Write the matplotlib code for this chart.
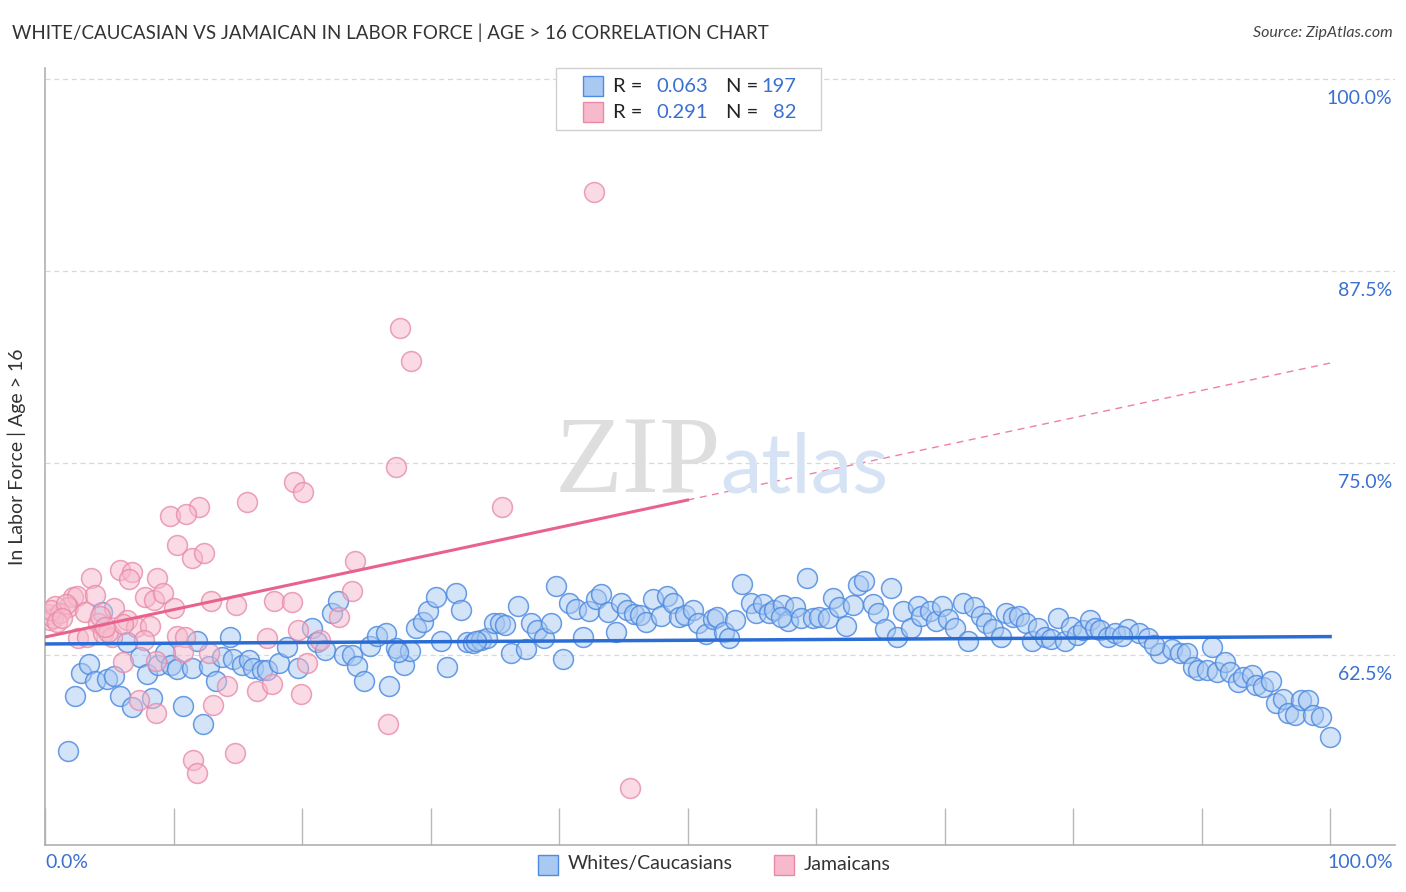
import matplotlib
matplotlib.use("Agg")
import matplotlib.pyplot as plt
from matplotlib.patches import Rectangle
from matplotlib.colors import to_rgba

# ---------------- data ----------------
white_x = [1.8, 2.3, 2.8, 3.4, 3.9, 4.4, 4.8, 5.4, 5.8, 6.4, 6.8, 7.4, 7.9, 8.3, 8.8, 9.3, 9.8, 10.3, 10.7, 11.4,
           11.8, 12.3, 12.8, 13.3, 13.8, 14.4, 14.6, 15.3, 15.9, 16.2, 16.9, 17.3, 18.2, 18.8, 19.7, 20.8, 21.2, 21.8, 22.3, 22.8,
           23.3, 23.9, 24.3, 24.8, 25.3, 25.8, 26.5, 26.8, 27.3, 27.9, 28.4, 28.9, 29.4, 29.8, 30.4, 30.8, 31.3, 32.0, 32.4, 32.8,
           33.3, 33.9, 34.4, 34.9, 35.4, 35.8, 36.3, 36.8, 37.4, 37.8, 38.3, 38.8, 39.4, 39.8, 40.3, 40.8, 41.3, 41.9, 42.3, 42.9,
           43.3, 43.8, 44.4, 44.8, 45.3, 45.8, 46.3, 46.8, 47.3, 47.9, 48.4, 48.9, 49.3, 49.8, 50.4, 50.8, 51.4, 52.0, 52.3, 52.8,
           53.2, 53.7, 54.2, 54.9, 55.3, 55.9, 56.3, 56.7, 57.4, 57.8, 58.4, 58.8, 59.3, 59.8, 60.2, 60.9, 61.3, 61.8, 62.3, 62.9,
           63.3, 63.7, 64.4, 64.8, 65.4, 65.8, 66.3, 66.8, 67.4, 67.9, 68.2, 68.9, 69.3, 69.8, 70.3, 70.8, 71.4, 71.8, 72.3, 72.8,
           73.2, 73.8, 74.4, 74.8, 75.3, 75.8, 76.3, 76.8, 77.3, 77.8, 78.3, 78.8, 79.4, 79.8, 80.3, 80.8, 81.3, 81.7, 82.1, 82.7,
           83.3, 84.3, 85.1, 85.8, 86.8, 87.7, 88.3, 88.9, 89.3, 89.7, 90.4, 90.8, 91.2, 91.8, 92.2, 92.8, 93.2, 93.9, 94.2, 94.8,
           95.4, 95.8, 96.3, 96.7, 97.3, 97.7, 98.3, 98.7, 99.3, 100.0, 83.8, 86.3, 27.5, 33.5, 57.3]
white_y = [56.25, 59.83, 61.33, 61.91, 60.81, 65.30, 60.94, 61.13, 59.83, 63.35, 59.11, 62.37, 61.26, 59.70, 61.85, 62.63, 61.85, 61.59, 59.18, 61.65,
           63.41, 58.01, 61.78, 60.81, 62.37, 63.67, 62.24, 61.85, 62.17, 61.65, 61.52, 61.52, 61.98, 63.02, 61.65, 64.26, 63.35, 62.83, 65.23, 66.02,
           62.50, 62.50, 61.78, 60.81, 63.09, 63.74, 63.93, 60.48, 62.96, 61.85, 62.76, 64.26, 64.65, 65.36, 66.28, 63.41, 61.72, 66.54, 65.43, 63.35,
           63.28, 63.48, 63.61, 64.58, 64.58, 64.45, 62.63, 65.69, 62.89, 64.58, 64.13, 63.61, 64.58, 66.99, 62.24, 65.89, 65.49, 63.67, 65.36, 66.15,
           66.47, 65.30, 64.00, 65.89, 65.43, 65.17, 65.10, 64.65, 66.15, 65.04, 66.34, 65.89, 64.97, 65.10, 65.43, 64.58, 63.87, 64.84, 64.97, 64.00,
           63.61, 64.78, 67.12, 65.89, 65.23, 65.82, 65.23, 65.43, 65.76, 64.71, 65.62, 64.91, 67.51, 64.91, 64.97, 64.91, 66.21, 65.62, 64.39, 65.76,
           67.06, 67.32, 65.82, 65.23, 64.19, 66.86, 63.67, 65.36, 64.26, 65.69, 65.04, 65.36, 64.71, 65.69, 64.84, 64.26, 65.89, 63.41, 65.62, 65.04,
           64.58, 64.19, 63.67, 65.23, 64.97, 65.04, 64.58, 63.41, 64.26, 63.67, 63.54, 64.91, 63.41, 64.32, 63.80, 64.13, 64.78, 64.26, 64.13, 63.67,
           63.93, 64.19, 63.93, 63.61, 62.63, 62.89, 62.63, 62.63, 61.72, 61.52, 61.52, 63.02, 61.39, 62.04, 61.39, 60.74, 61.07, 61.20, 60.55, 60.42,
           60.81, 59.38, 59.64, 58.73, 58.60, 59.57, 59.57, 58.60, 58.47, 57.17, 63.74, 63.15, 62.70, 63.40, 65.00]

jam_x = [42.7, 27.6, 28.5, 27.3, 35.6, 19.4, 20.1, 15.7, 12.0, 9.7, 11.0, 10.3, 11.4, 12.4, 24.1, 23.9, 5.8, 6.8, 6.5, 3.6,
         8.7, 2.2, 2.5, 3.9, 7.8, 8.5, 9.2, 10.0, 5.4, 12.9, 14.9, 17.8, 19.2, 1.8, 3.1, 4.1, 6.4, 7.1, 8.2, 2.6,
         3.3, 4.5, 5.2, 7.7, 10.3, 10.9, 10.7, 12.8, 17.3, 19.7, 22.9, 6.1, 7.3, 8.6, 13.1, 14.2, 16.5, 17.7, 19.9, 20.4,
         21.4, 11.5, 11.8, 14.8, 45.5, 26.7, 8.6, 0.2, 0.4, 0.6, 0.8, 1.2, 0.5, 1.6, 0.9, 1.3, 4.9, 6.1, 4.3, 4.7]
jam_y = [92.64, 83.79, 81.64, 74.74, 72.13, 73.76, 73.11, 72.46, 72.13, 71.55, 71.68, 69.66, 68.81, 69.14, 68.62, 66.67, 68.03, 67.90, 67.45, 67.51,
         67.51, 66.28, 66.34, 66.41, 66.28, 66.08, 66.54, 65.56, 65.56, 66.02, 65.76, 66.02, 65.95, 65.62, 65.30, 64.58, 64.78, 64.32, 64.39, 63.61,
         63.67, 63.93, 63.67, 63.48, 63.74, 63.67, 62.70, 62.63, 63.61, 64.13, 64.97, 62.04, 59.57, 58.73, 59.25, 60.48, 60.16, 60.61, 59.96, 61.98,
         63.48, 55.64, 54.79, 56.10, 53.84, 58.01, 62.11, 65.17, 64.78, 64.91, 65.69, 65.23, 65.43, 65.82, 64.65, 64.91, 64.00, 64.52, 65.04, 64.30]

white_fit_x = [0, 100]
white_fit_y = [63.22, 63.70]
jam_fit_x_solid = [0, 50]
jam_fit_y_solid = [63.67, 72.59]
jam_fit_x_dash = [50, 100]
jam_fit_y_dash = [72.59, 81.51]

y_ticks = [62.5, 75.0, 87.5, 100.0]
y_tick_labels = ["62.5%", "75.0%", "87.5%", "100.0%"]
x_ticks = [0, 10, 20, 30, 40, 50, 60, 70, 80, 90, 100]

BLUE_FACE = "#a9c9f2"
BLUE_EDGE = "#4f8be0"
PINK_FACE = "#f7b9cc"
PINK_EDGE = "#e88aa8"
BLUE_LINE = "#2a6dd4"
PINK_LINE = "#e8628c"
TICK_BLUE = "#3a70d0"

plt.rcParams['font.family'] = ['Lato', 'DejaVu Sans']

fig = plt.figure(figsize=(14.06, 8.92), dpi=100)
ax = fig.add_axes([45 / 1406, 1 - 845 / 892, 1350 / 1406, (845 - 68) / 892])
ax.set_xlim(0, 105.05)
ax.set_ylim(50.13, 100.72)

for yt in y_ticks:
    ax.axhline(yt, color="#d8d8d8", lw=0.9, ls=(0, (4, 3)), zorder=0)

# watermark
fig.text(555 / 1406, 1 - 492 / 892, "ZIP", ha="left", va="baseline",
         fontsize=80, color="#dedede", family="Liberation Serif", zorder=0)
fig.text(720 / 1406, 1 - 492 / 892, "atlas", ha="left", va="baseline",
         fontsize=60, color="#d6e3f5", zorder=0)

ax.patch.set_alpha(0)
ax.scatter(white_x, white_y, s=205, facecolor=to_rgba(BLUE_FACE, 0.5), edgecolor=to_rgba(BLUE_EDGE, 0.85),
           linewidth=1.1, zorder=3)
ax.scatter(jam_x, jam_y, s=205, facecolor=to_rgba(PINK_FACE, 0.5), edgecolor=to_rgba(PINK_EDGE, 0.8),
           linewidth=1.1, zorder=3)

ax.plot(white_fit_x, white_fit_y, color=BLUE_LINE, lw=2.5, zorder=4)
ax.plot(jam_fit_x_solid, jam_fit_y_solid, color=PINK_LINE, lw=2.2, zorder=4)
ax.plot(jam_fit_x_dash, jam_fit_y_dash, color=PINK_LINE, lw=1.0, ls=(0, (5, 4)), alpha=0.8, zorder=4)

for s in ["top", "right"]:
    ax.spines[s].set_visible(False)
ax.spines["left"].set_color("#b0b0b0")
ax.spines["bottom"].set_color("#b0b0b0")
ax.spines["left"].set_linewidth(1.2)
ax.spines["bottom"].set_linewidth(1.2)

ax.set_xticks(x_ticks)
ax.set_xticklabels([])
ax.tick_params(axis="x", direction="in", length=27, color="#b8b8b8", width=1.0)
ax.set_yticks([])

for yt, lab in zip(y_ticks, y_tick_labels):
    ax.annotate(lab, xy=(1.0, yt), xycoords=("axes fraction", "data"),
                xytext=(-2, -8), textcoords="offset points",
                ha="right", va="top", fontsize=14, color=TICK_BLUE)

fig.text(45 / 1406, 1 - 863 / 892, "0.0%", ha="left", va="center", fontsize=14, color=TICK_BLUE)
fig.text(1393 / 1406, 1 - 863 / 892, "100.0%", ha="right", va="center", fontsize=14, color=TICK_BLUE)

ax.set_ylabel("In Labor Force | Age > 16", fontsize=14, color="#333333", labelpad=14)

fig.text(12 / 1406, 1 - 33 / 892, "WHITE/CAUCASIAN VS JAMAICAN IN LABOR FORCE | AGE > 16 CORRELATION CHART",
         ha="left", va="center", fontsize=13.5, color="#333333")
fig.text(1393 / 1406, 1 - 33 / 892, "Source: ZipAtlas.com", ha="right", va="center",
         fontsize=11.5, color="#444444", style="italic")

# top legend
lx0, ly0, lw_, lh_ = 556, 68, 265, 62
fig.patches.append(Rectangle((lx0 / 1406, 1 - (ly0 + lh_) / 892), lw_ / 1406, lh_ / 892,
                             transform=fig.transFigure, facecolor="white", edgecolor="#d0d0d0", lw=1.0, zorder=5))
rows = [(86, BLUE_FACE, BLUE_EDGE, "0.063", "197"), (112, PINK_FACE, PINK_EDGE, "0.291", "82")]
for yy, fc, ec, r, n in rows:
    fig.patches.append(Rectangle((583 / 1406, 1 - (yy + 10) / 892), 20 / 1406, 20 / 892,
                                 transform=fig.transFigure, facecolor=fc, edgecolor=ec, lw=1.0, zorder=6))
    fig.text(613 / 1406, 1 - yy / 892, "R =", ha="left", va="center", fontsize=14.5, color="#222222", zorder=7)
    fig.text(708 / 1406, 1 - yy / 892, r, ha="right", va="center", fontsize=14.5, color=TICK_BLUE, zorder=7)
    fig.text(726 / 1406, 1 - yy / 892, "N =", ha="left", va="center", fontsize=14.5, color="#222222", zorder=7)
    fig.text(796 / 1406, 1 - yy / 892, n, ha="right", va="center", fontsize=14.5, color=TICK_BLUE, zorder=7)

# bottom legend
for x0, fc, ec, lab in [(538, BLUE_FACE, BLUE_EDGE, "Whites/Caucasians"), (774, PINK_FACE, PINK_EDGE, "Jamaicans")]:
    fig.patches.append(Rectangle((x0 / 1406, 1 - 875 / 892), 20 / 1406, 20 / 892,
                                 transform=fig.transFigure, facecolor=fc, edgecolor=ec, lw=1.0))
    fig.text((x0 + 30) / 1406, 1 - 864 / 892, lab, ha="left", va="center", fontsize=14, color="#333333")

fig.savefig("out.png", dpi=100, facecolor="white")
